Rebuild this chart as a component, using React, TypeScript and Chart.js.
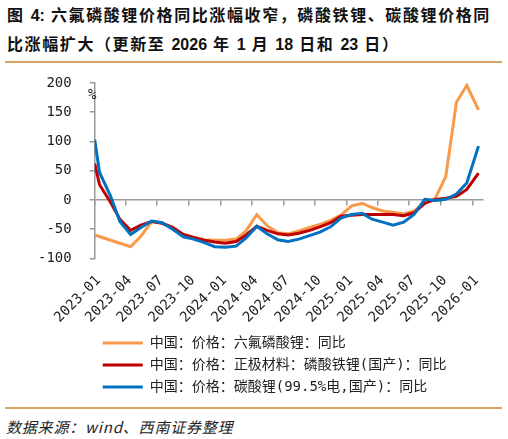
import React, { useEffect, useRef } from 'react';
import { Chart, registerables } from 'chart.js';

Chart.register(...registerables);

// ---- data ----
const dates = [
  '2023-01-01', '2023-01-15', '2023-02-15', '2023-03-15', '2023-04-15', '2023-05-15', '2023-06-15',
  '2023-07-15', '2023-08-15', '2023-09-15', '2023-10-15', '2023-11-15', '2023-12-15',
  '2024-01-15', '2024-02-15', '2024-03-15', '2024-04-15', '2024-05-15', '2024-06-15',
  '2024-07-15', '2024-08-15', '2024-09-15', '2024-10-15', '2024-11-15', '2024-12-15',
  '2025-01-15', '2025-02-15', '2025-03-15', '2025-04-15', '2025-05-15', '2025-06-15',
  '2025-07-15', '2025-08-15', '2025-09-15', '2025-10-15', '2025-11-15', '2025-12-15',
  '2026-01-18',
];

const lipf6 = [
  -60, null, null, null, -80, -62, -37,
  -39, -48, -59, -64, -68, -69,
  -69, -67, -53, -25, -44, -56,
  -58, -53, -47, -42, -35, -26,
  -10, -6, -13, -19, -21, -24,
  -19, -5, 3, 40, 167, 196,
  154,
];

const lfp = [
  62, 26, -3, -33, -52, -43, -37,
  -40, -47, -59, -64, -69, -72,
  -74, -71, -60, -45, -52, -58,
  -60, -57, -52, -46, -39, -28,
  -26, -25, -25, -25, -25, -27,
  -22, -6, 1, 3, 6, 18,
  46,
];

const li2co3 = [
  103, 47, 8, -37, -59, -47, -36,
  -39, -50, -63, -67, -73, -80,
  -81, -79, -65, -45, -58, -68,
  -71, -67, -61, -55, -46, -31,
  -25, -23, -33, -38, -43, -38,
  -25, 1, -1, 1, 10, 29,
  92,
];

const seriesNames = [
  '中国：价格：六氟磷酸锂：同比',
  '中国：价格：正极材料：磷酸铁锂(国产)：同比',
  '中国：价格：碳酸锂(99.5%电,国产)：同比',
];
const seriesColors = ['#F9994A', '#C00000', '#0070C0'];

const tickDates = [
  '2023-01-01', '2023-04-01', '2023-07-01', '2023-10-01',
  '2024-01-01', '2024-04-01', '2024-07-01', '2024-10-01',
  '2025-01-01', '2025-04-01', '2025-07-01', '2025-10-01',
  '2026-01-01',
];
const tickLabels = [
  '2023-01', '2023-04', '2023-07', '2023-10',
  '2024-01', '2024-04', '2024-07', '2024-10',
  '2025-01', '2025-04', '2025-07', '2025-10',
  '2026-01',
];
const axisStart = '2023-01-01';
const axisEnd = '2026-01-31';
const yMin = -100;
const yMax = 200;
const yStep = 50;

const toUTC = (s: string) => {
  const [y, m, d] = s.split('-').map(Number);
  return Date.UTC(y, m - 1, d);
};
const dayNum = (s: string) => (toUTC(s) - toUTC(axisStart)) / 86400000;

const monoFont = "'DejaVu Sans Mono', monospace";
const legendFont = "'DejaVu Sans Mono', 'Noto Sans CJK SC', sans-serif";

export default function App() {
  const canvasRef = useRef<HTMLCanvasElement | null>(null);

  useEffect(() => {
    if (!canvasRef.current) return;
    const tickVals = tickDates.map(dayNum);
    const setTicks = (scale: any) => {
      scale.ticks = tickVals.map((v) => ({ value: v }));
    };
    const mk = (vals: (number | null)[]) =>
      dates.map((d, i) => ({ x: dayNum(d), y: vals[i] }));
    const all = [lipf6, lfp, li2co3];
    const chart = new Chart(canvasRef.current, {
      type: 'line',
      data: {
        datasets: all.map((vals, i) => ({
          label: seriesNames[i],
          data: mk(vals),
          borderColor: seriesColors[i],
          backgroundColor: seriesColors[i],
          borderWidth: 3,
          pointRadius: 0,
          tension: 0,
          spanGaps: true,
          order: 2 - i,
          xAxisID: 'x',
          yAxisID: 'y',
        })),
      },
      options: {
        animation: false,
        responsive: false,
        events: [],
        layout: { padding: { left: 20, right: 25, top: 19, bottom: 0 } },
        plugins: {
          tooltip: { enabled: false },
          title: { display: false },
          legend: {
            display: true,
            position: 'bottom',
            align: 'start',
            fullSize: false,
            labels: {
              boxWidth: 40,
              boxHeight: 3,
              padding: 8,
              color: '#222',
              font: { size: 14, family: legendFont },
              sort: (a: any, b: any) => a.datasetIndex - b.datasetIndex,
              generateLabels: (c: any) =>
                (Chart.defaults.plugins.legend.labels.generateLabels as any)(c).map((l: any) => ({
                  ...l,
                  fillStyle: seriesColors[l.datasetIndex],
                  strokeStyle: seriesColors[l.datasetIndex],
                  lineWidth: 0,
                })),
            },
          },
        },
        scales: {
          x: {
            type: 'linear',
            position: 'bottom',
            min: dayNum(axisStart),
            max: dayNum(axisEnd),
            afterBuildTicks: setTicks,
            afterFit: (s: any) => {
              s.height -= 4;
            },
            grid: { display: false },
            border: { display: false },
            ticks: {
              autoSkip: false,
              minRotation: 45,
              maxRotation: 45,
              padding: 6,
              labelOffset: 4,
              color: '#222',
              font: { size: 14, family: monoFont },
              callback: (_v: any, i: number) => tickLabels[i] ?? '',
            },
          },
          x2: {
            type: 'linear',
            position: { y: 0 },
            min: dayNum(axisStart),
            max: dayNum(axisEnd),
            afterBuildTicks: setTicks,
            grid: { display: true, drawOnChartArea: false, drawTicks: true, tickLength: 5, color: '#9a9a9a', lineWidth: 1.5 },
            border: { display: true, color: '#9a9a9a', width: 1.5 },
            ticks: { display: false },
          },
          y: {
            type: 'linear',
            min: yMin,
            max: yMax,
            afterFit: (s: any) => {
              s.paddingTop = 0;
              s.paddingBottom = 0;
            },
            ticks: {
              stepSize: yStep,
              padding: 18,
              color: '#222',
              font: { size: 14, family: monoFont },
            },
            grid: { display: true, drawOnChartArea: false, drawTicks: true, tickLength: 5, color: '#9a9a9a', lineWidth: 1.5 },
            border: { display: true, color: '#9a9a9a', width: 1.5 },
          },
        },
      } as any,
    });
    return () => chart.destroy();
  }, []);

  const cjkBold = "'Liberation Sans', 'Noto Sans CJK SC', sans-serif";
  const num: React.CSSProperties = { letterSpacing: 0 };

  return (
    <div
      style={{
        position: 'absolute',
        left: 0,
        top: 0,
        width: 508,
        height: 439,
        background: '#fff',
        overflow: 'hidden',
      }}
    >
      <div
        style={{
          position: 'absolute',
          left: 7,
          top: 1,
          fontFamily: cjkBold,
          fontWeight: 700,
          fontSize: 16,
          lineHeight: '29px',
          letterSpacing: '1.6px',
          color: '#111',
          whiteSpace: 'nowrap',
        }}
      >
        图 <span style={num}>4:</span> 六氟磷酸锂价格同比涨幅收窄，磷酸铁锂、碳酸锂价格同
        <br />
        比涨幅扩大（更新至 <span style={num}>2026</span> 年 <span style={num}>1</span> 月{' '}
        <span style={num}>18</span> 日和 <span style={num}>23</span> 日）
      </div>
      <div style={{ position: 'absolute', left: 5, top: 61, width: 497, height: 2, background: '#D4A463' }} />
      <canvas
        ref={canvasRef}
        width={508}
        height={340}
        style={{ position: 'absolute', left: 0, top: 64, width: 508, height: 340 }}
      />
      <div
        style={{
          position: 'absolute',
          left: 88,
          top: 86,
          fontFamily: monoFont,
          fontSize: 14,
          color: '#222',
        }}
      >
        %
      </div>
      <div style={{ position: 'absolute', left: 5, top: 407, width: 497, height: 2, background: '#D4A463' }} />
      <div
        style={{
          position: 'absolute',
          left: 6,
          top: 416,
          fontFamily: "'Noto Sans CJK SC', sans-serif",
          fontStyle: 'italic',
          fontSize: 15,
          lineHeight: '22px',
          letterSpacing: '0.8px',
          color: '#222',
          whiteSpace: 'nowrap',
        }}
      >
        数据来源：wind、西南证券整理
      </div>
    </div>
  );
}
